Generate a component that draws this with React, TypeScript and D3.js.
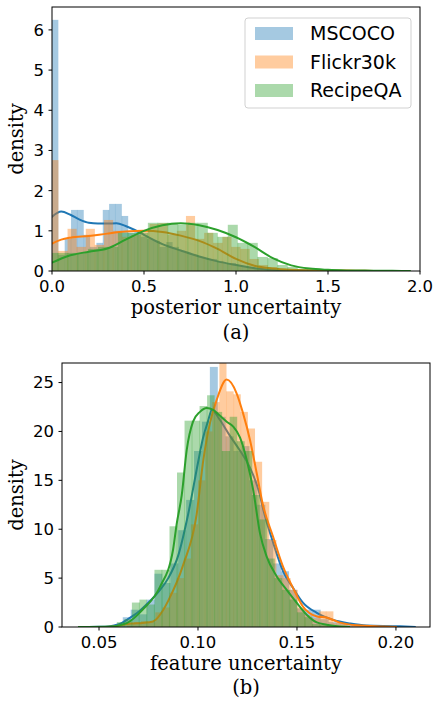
import React from 'react';
import * as d3 from 'd3';

const SERIES = ['MSCOCO', 'Flickr30k', 'RecipeQA'];
const COLORS = ['#1f77b4', '#ff7f0e', '#2ca02c'];

// ---------- Panel (a): posterior uncertainty ----------
const A_X_TICKS = [0, 0.5, 1.0, 1.5, 2.0];
const A_X_TICK_LABELS = ['0.0', '0.5', '1.0', '1.5', '2.0'];
const A_Y_TICKS = [0, 1, 2, 3, 4, 5, 6];

const A_MSCOCO_START = 0;
const A_MSCOCO_WIDTH = 0.0345;
const A_MSCOCO_HIST = [6.25, 0.4, 0.8, 1.52, 1.52, 0.9, 0.6, 0.7, 1.52, 1.67, 1.67, 1.37, 0.95, 1.0, 0.85, 0.8, 0.75, 0.6, 0.72, 0.6, 0.5, 0.45, 0.4, 0.35, 0.3, 0.3, 0.25, 0.2, 0.2, 0.15, 0.12, 0.1, 0.08, 0.05, 0.04, 0.03, 0.02, 0.02, 0.01, 0.01];

const A_FLICKR_START = -0.0145;
const A_FLICKR_WIDTH = 0.0495;
const A_FLICKR_HIST = [2.76, 0.5, 1.05, 0.6, 1.05, 0.65, 1.27, 1.0, 0.85, 0.9, 1.0, 1.17, 1.19, 0.9, 1.0, 1.37, 0.8, 0.95, 0.7, 0.85, 0.6, 0.55, 0.3, 0.15, 0.1, 0.06, 0.04, 0.03, 0.02, 0.01, 0.01, 0.01, 0.01, 0.01, 0.01, 0.01];

const A_RECIPE_START = -0.022;
const A_RECIPE_WIDTH = 0.0543;
const A_RECIPE_HIST = [0.45, 0.45, 0.45, 0.45, 0.55, 0.6, 0.6, 0.95, 0.95, 0.95, 1.2, 1.2, 1.2, 1.15, 1.2, 1.2, 0.95, 0.85, 1.15, 0.7, 0.7, 0.35, 0.32, 0.15, 0.1, 0.05, 0.04, 0.03, 0.02, 0.02, 0.02, 0.01, 0.01, 0.01, 0.01, 0.01];

const A_MSCOCO_KDE_X = [-0.05, 0, 0.05, 0.1, 0.15, 0.2, 0.25, 0.3, 0.35, 0.4, 0.45, 0.5, 0.6, 0.7, 0.8, 0.9, 1.0, 1.1, 1.2, 1.3, 1.4, 1.5, 1.6, 1.7];
const A_MSCOCO_KDE_Y = [1.1, 1.35, 1.48, 1.4, 1.28, 1.2, 1.18, 1.18, 1.19, 1.12, 1.02, 0.9, 0.67, 0.51, 0.36, 0.24, 0.15, 0.07, 0.03, 0.015, 0.008, 0.004, 0.002, 0];

const A_FLICKR_KDE_X = [-0.05, 0, 0.05, 0.1, 0.2, 0.3, 0.4, 0.5, 0.6, 0.7, 0.8, 0.9, 1.0, 1.1, 1.2, 1.3, 1.4, 1.5, 1.6, 1.7, 1.8];
const A_FLICKR_KDE_Y = [0.55, 0.68, 0.78, 0.83, 0.87, 0.93, 0.98, 1.0, 0.97, 0.88, 0.75, 0.55, 0.3, 0.13, 0.06, 0.03, 0.02, 0.015, 0.01, 0.005, 0];

const A_RECIPE_KDE_X = [-0.05, 0, 0.1, 0.2, 0.3, 0.4, 0.5, 0.6, 0.7, 0.8, 0.9, 1.0, 1.1, 1.2, 1.3, 1.4, 1.5, 1.6, 1.7, 1.8, 1.9, 1.95];
const A_RECIPE_KDE_Y = [0.12, 0.21, 0.39, 0.48, 0.56, 0.78, 1.0, 1.14, 1.19, 1.14, 1.02, 0.84, 0.6, 0.32, 0.14, 0.06, 0.03, 0.015, 0.01, 0.005, 0.002, 0];

// ---------- Panel (b): feature uncertainty ----------
const B_X_TICKS = [0.05, 0.1, 0.15, 0.2];
const B_X_TICK_LABELS = ['0.05', '0.10', '0.15', '0.20'];
const B_Y_TICKS = [0, 5, 10, 15, 20, 25];

const B_MSCOCO_START = 0.058;
const B_MSCOCO_WIDTH = 0.004;
const B_MSCOCO_HIST = [0.3, 1.0, 1.77, 1.3, 2.8, 5.45, 4.5, 6.5, 9.9, 13, 18, 21, 26.6, 21.5, 19.5, 18, 18.5, 15, 12.5, 9, 6.5, 5.7, 3.8, 1.9, 1.77, 1.77, 0.8, 0.5, 0.4, 0.3, 0.2, 0.15, 0.1, 0.08, 0.05, 0.05, 0.03, 0.03];

const B_FLICKR_START = 0.064;
const B_FLICKR_WIDTH = 0.0036;
const B_FLICKR_HIST = [0.4, 0.5, 0.6, 0.5, 1.5, 2.0, 3.5, 5.0, 7.0, 10.5, 15.0, 20.0, 23.0, 28.0, 24.1, 23.8, 22.0, 20.3, 16.9, 12.8, 8.9, 5.3, 5.0, 3.8, 2.0, 1.2, 0.9, 1.6, 1.6, 0.4, 0.3, 0.1, 0.1, 0.05, 0.05, 0.03, 0.03, 0.02];

const B_RECIPE_START = 0.04;
const B_RECIPE_WIDTH = 0.0038;
const B_RECIPE_HIST = [0.05, 0.05, 0.05, 0.05, 0.1, 0.5, 0.8, 2.5, 2.8, 2.3, 5.85, 5.85, 10.3, 15.8, 21.1, 21.1, 22.6, 23.7, 22.0, 18.0, 21.5, 19.0, 18.0, 13.5, 11.0, 7.0, 5.0, 3.8, 2.8, 1.5, 1.0, 0.3, 0.2, 0.1, 0.05, 0.03];

const B_MSCOCO_KDE_X = [0.045, 0.05, 0.055, 0.06, 0.065, 0.07, 0.075, 0.08, 0.085, 0.09, 0.095, 0.1, 0.1025, 0.105, 0.107, 0.111, 0.116, 0.121, 0.126, 0.131, 0.133, 0.138, 0.143, 0.148, 0.153, 0.16, 0.168, 0.177, 0.185, 0.202, 0.21];
const B_MSCOCO_KDE_Y = [0, 0.02, 0.06, 0.28, 0.85, 1.55, 2.5, 3.6, 5.0, 7.3, 11.5, 16.8, 19.3, 21.0, 22.2, 21.2, 19.6, 18.1, 16.4, 13.7, 12.0, 8.6, 5.7, 4.0, 2.5, 1.45, 0.75, 0.35, 0.15, 0.08, 0];

const B_FLICKR_KDE_X = [0.054, 0.058, 0.062, 0.066, 0.072, 0.0773, 0.0825, 0.085, 0.0926, 0.0993, 0.1027, 0.1061, 0.1094, 0.1145, 0.1195, 0.1227, 0.1263, 0.1296, 0.1328, 0.1379, 0.1429, 0.148, 0.153, 0.1601, 0.1652, 0.1717, 0.1803, 0.1934, 0.2005];
const B_FLICKR_KDE_Y = [0, 0.05, 0.2, 0.35, 0.42, 0.57, 1.77, 2.7, 6.4, 11.5, 17.1, 20.9, 23.2, 25.3, 23.9, 21.9, 19.1, 15.8, 12.5, 9.25, 6.2, 4.0, 2.1, 1.08, 0.95, 0.45, 0.17, 0.05, 0];

const B_RECIPE_KDE_X = [0.0394, 0.0556, 0.064, 0.0722, 0.0808, 0.0874, 0.0892, 0.0918, 0.0943, 0.0975, 0.101, 0.1044, 0.1077, 0.1111, 0.1145, 0.1178, 0.1212, 0.1246, 0.1279, 0.1313, 0.1347, 0.1397, 0.1448, 0.1498, 0.1549, 0.16, 0.165, 0.1717, 0.1768];
const B_RECIPE_KDE_Y = [0, 0.05, 0.4, 1.8, 4.1, 7.9, 10.5, 13.5, 18.1, 21.0, 22.0, 22.4, 22.2, 21.6, 21.0, 20.5, 19.4, 17.1, 14.0, 9.6, 7.2, 5.2, 3.8, 2.5, 1.26, 0.47, 0.23, 0.05, 0];

type HistDef = { start: number; width: number; heights: number[] };
type KdeDef = { xs: number[]; ys: number[] };

const TICK_FONT = 'DejaVu Sans, sans-serif';
const LABEL_FONT = 'DejaVu Serif, serif';
const TICK_SIZE = 16.5;
const LABEL_SIZE = 19.5;

function Panel(props: {
  id: string;
  left: number; right: number; top: number; bottom: number;
  xDomain: [number, number]; yDomain: [number, number];
  xTicks: number[]; xTickLabels: string[]; yTicks: number[];
  hists: HistDef[]; kdes: KdeDef[];
  xLabel: string; caption: string; xLabelY: number; captionY: number; yLabelX: number;
}) {
  const { id, left, right, top, bottom } = props;
  const x = d3.scaleLinear().domain(props.xDomain).range([left, right]);
  const y = d3.scaleLinear().domain(props.yDomain).range([bottom, top]);
  const line = d3.line<[number, number]>()
    .x(d => x(d[0]))
    .y(d => y(d[1]))
    .curve(d3.curveMonotoneX);
  const clip = `clip-${id}`;
  return (
    <g>
      <defs>
        <clipPath id={clip}>
          <rect x={left} y={top} width={right - left} height={bottom - top} />
        </clipPath>
      </defs>
      <g clipPath={`url(#${clip})`}>
        {props.hists.map((h, si) => (
          <g key={si}>
            {h.heights.map((v, i) => {
              const x0 = x(h.start + i * h.width);
              const x1 = x(h.start + (i + 1) * h.width);
              return (
                <rect key={i} x={x0} y={y(v)} width={x1 - x0} height={y(0) - y(v)}
                  fill={COLORS[si]} fillOpacity={0.4} />
              );
            })}
            {h.heights.slice(1).map((v, i) => {
              const xe = x(h.start + (i + 1) * h.width);
              const hh = Math.min(v, h.heights[i]);
              return (
                <line key={'e' + i} x1={xe} x2={xe} y1={y(0)} y2={y(hh)}
                  stroke={COLORS[si]} strokeOpacity={si === 2 ? 0.35 : 0.2} strokeWidth={0.8} />
              );
            })}
            <path d={line(props.kdes[si].xs.map((v, i) => [v, props.kdes[si].ys[i]] as [number, number])) || ''}
              fill="none" stroke={COLORS[si]} strokeWidth={2} />
          </g>
        ))}
      </g>
      <rect x={left} y={top} width={right - left} height={bottom - top} fill="none" stroke="#000" strokeWidth={1} />
      {props.xTicks.map((t, i) => (
        <g key={'xt' + i}>
          <line x1={x(t)} x2={x(t)} y1={bottom} y2={bottom + 3.5} stroke="#000" strokeWidth={1} />
          <text x={x(t)} y={bottom + 21} textAnchor="middle" fontFamily={TICK_FONT} fontSize={TICK_SIZE}>{props.xTickLabels[i]}</text>
        </g>
      ))}
      {props.yTicks.map((t, i) => (
        <g key={'yt' + i}>
          <line x1={left - 3.5} x2={left} y1={y(t)} y2={y(t)} stroke="#000" strokeWidth={1} />
          <text x={left - 8} y={y(t)} dy="0.36em" textAnchor="end" fontFamily={TICK_FONT} fontSize={TICK_SIZE}>{t}</text>
        </g>
      ))}
      <text x={(left + right) / 2} y={props.xLabelY} textAnchor="middle" fontFamily={LABEL_FONT} fontSize={LABEL_SIZE}>{props.xLabel}</text>
      <text x={(left + right) / 2} y={props.captionY} textAnchor="middle" fontFamily={LABEL_FONT} fontSize={LABEL_SIZE}>{props.caption}</text>
      <text transform={`translate(${props.yLabelX},${(top + bottom) / 2}) rotate(-90)`} textAnchor="middle" fontFamily={LABEL_FONT} fontSize={LABEL_SIZE}>density</text>
    </g>
  );
}

export default function App() {
  const aHists: HistDef[] = [
    { start: A_MSCOCO_START, width: A_MSCOCO_WIDTH, heights: A_MSCOCO_HIST },
    { start: A_FLICKR_START, width: A_FLICKR_WIDTH, heights: A_FLICKR_HIST },
    { start: A_RECIPE_START, width: A_RECIPE_WIDTH, heights: A_RECIPE_HIST },
  ];
  const aKdes: KdeDef[] = [
    { xs: A_MSCOCO_KDE_X, ys: A_MSCOCO_KDE_Y },
    { xs: A_FLICKR_KDE_X, ys: A_FLICKR_KDE_Y },
    { xs: A_RECIPE_KDE_X, ys: A_RECIPE_KDE_Y },
  ];
  const bHists: HistDef[] = [
    { start: B_MSCOCO_START, width: B_MSCOCO_WIDTH, heights: B_MSCOCO_HIST },
    { start: B_FLICKR_START, width: B_FLICKR_WIDTH, heights: B_FLICKR_HIST },
    { start: B_RECIPE_START, width: B_RECIPE_WIDTH, heights: B_RECIPE_HIST },
  ];
  const bKdes: KdeDef[] = [
    { xs: B_MSCOCO_KDE_X, ys: B_MSCOCO_KDE_Y },
    { xs: B_FLICKR_KDE_X, ys: B_FLICKR_KDE_Y },
    { xs: B_RECIPE_KDE_X, ys: B_RECIPE_KDE_Y },
  ];
  const legendX = 245, legendY = 18;
  return (
    <svg width={434} height={702} style={{ position: 'absolute', left: 0, top: 0, background: '#fff' }}>
      <rect width={434} height={702} fill="#fff" />
      <Panel id="a" left={52} right={420} top={7} bottom={271}
        xDomain={[0, 2]} yDomain={[0, 6.57]}
        xTicks={A_X_TICKS} xTickLabels={A_X_TICK_LABELS} yTicks={A_Y_TICKS}
        hists={aHists} kdes={aKdes}
        xLabel="posterior uncertainty" caption="(a)" xLabelY={314} captionY={339} yLabelX={23} />
      <g>
        <rect x={legendX} y={legendY} width={166} height={90} rx={3} fill="#fff" fillOpacity={0.8} stroke="#ccc" strokeWidth={0.9} />
        {SERIES.map((s, i) => (
          <g key={s}>
            <rect x={legendX + 10} y={legendY + 9 + i * 28.5} width={38} height={13} fill={COLORS[i]} fillOpacity={0.4} />
            <text x={legendX + 65} y={legendY + 15.5 + i * 28.5} dy="0.36em" fontFamily={TICK_FONT} fontSize={19}>{s}</text>
          </g>
        ))}
      </g>
      <Panel id="b" left={62} right={430} top={363} bottom={627}
        xDomain={[0.0313, 0.2172]} yDomain={[0, 27]}
        xTicks={B_X_TICKS} xTickLabels={B_X_TICK_LABELS} yTicks={B_Y_TICKS}
        hists={bHists} kdes={bKdes}
        xLabel="feature uncertainty" caption="(b)" xLabelY={670} captionY={694} yLabelX={23} />
    </svg>
  );
}
